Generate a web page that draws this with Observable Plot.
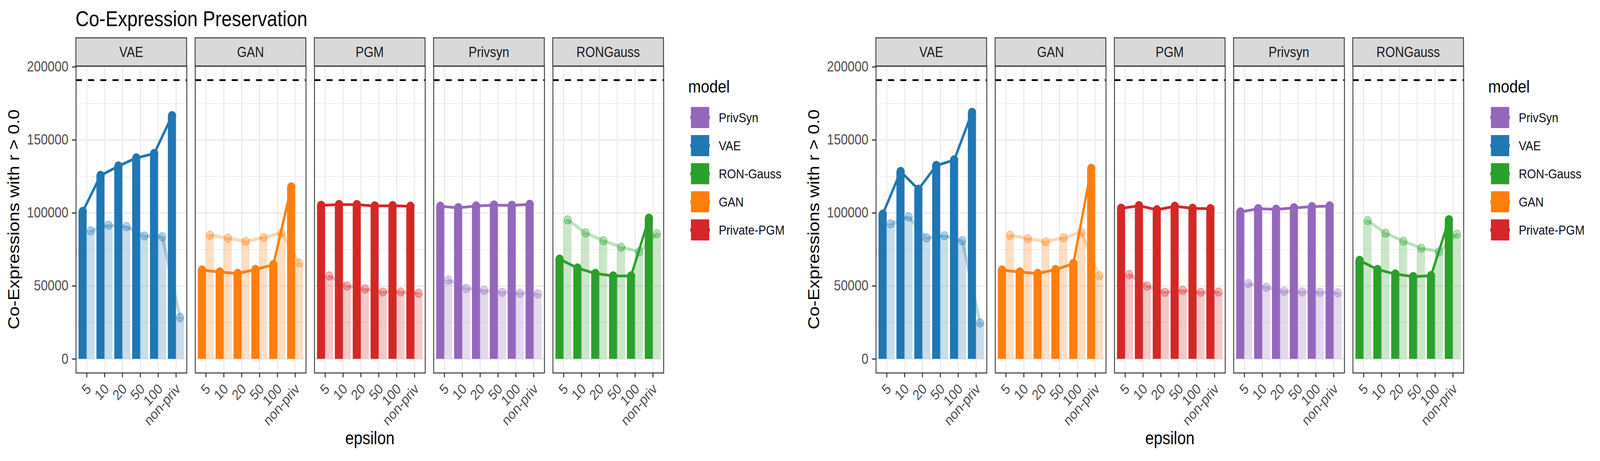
<!DOCTYPE html>
<html>
<head>
<meta charset="utf-8">
<script src="https://cdn.jsdelivr.net/npm/d3@7"></script>
<script src="https://cdn.jsdelivr.net/npm/@observablehq/plot@0.6"></script>
<style>
html, body { margin: 0; padding: 0; background: #ffffff; overflow: hidden; }
#root { position: relative; width: 4724px; height: 1181px; overflow: hidden; background: #ffffff;
        transform-origin: 0 0;
        font-family: "Liberation Sans", Arial, Helvetica, sans-serif; }
.half { position: absolute; top: 0; width: 2362px; height: 1181px; }
</style>
</head>
<body>
<div id="root"></div>
<script>
// ---------------- data ----------------
const epsilons = ["5", "10", "20", "50", "100", "non-priv"];
const models = ["VAE", "GAN", "PGM", "Privsyn", "RONGauss"];
const modelColors = ["#1f77b4", "#ff7f0e", "#d62728", "#9467bd", "#2ca02c"];
const legendModels = ["Privsyn", "VAE", "RONGauss", "GAN", "PGM"];
const legendLabels = ["PrivSyn", "VAE", "RON-Gauss", "GAN", "Private-PGM"];
const yTicks = [0, 50000, 100000, 150000, 200000];
const yMinorTicks = [25000, 75000, 125000, 175000];
const referenceTotal = 191000;

// left chart: solid series and faded series, per model, in epsilon order
const leftMainVAE       = [101000, 125700, 132100, 137700, 140700, 166600];
const leftFadedVAE      = [ 87800,  91600,  90700,  84300,  83800,  28600];
const leftMainGAN       = [ 60900,  59600,  58600,  61300,  64600, 117800];
const leftFadedGAN      = [ 84900,  82800,  80600,  83200,  86400,  65700];
const leftMainPGM       = [105200, 105800, 105700, 104800, 105000, 104600];
const leftFadedPGM      = [ 56900,  50000,  48000,  45900,  45900,  45100];
const leftMainPrivsyn   = [104600, 103600, 104800, 105400, 105200, 105900];
const leftFadedPrivsyn  = [ 54100,  48400,  47000,  45700,  45100,  44600];
const leftMainRONGauss  = [ 68400,  62300,  58600,  56900,  56900,  96400];
const leftFadedRONGauss = [ 95300,  86400,  81000,  76600,  73500,  85900];

// right chart
const rightMainVAE       = [ 99100, 128400, 116200, 132500, 136300, 168900];
const rightFadedVAE      = [ 92600,  97300,  83000,  84400,  81000,  24800];
const rightMainGAN       = [ 60900,  59600,  58600,  61200,  65400, 130500];
const rightFadedGAN      = [ 84800,  82500,  80400,  83000,  86800,  57100];
const rightMainPGM       = [103200, 105000, 102200, 104600, 103200, 102900];
const rightFadedPGM      = [ 57900,  50000,  45700,  47000,  45700,  45900];
const rightMainPrivsyn   = [100700, 102900, 102500, 103500, 104300, 104800];
const rightFadedPrivsyn  = [ 51700,  49100,  46400,  45900,  45700,  45300];
const rightMainRONGauss  = [ 67500,  61300,  58200,  56400,  57100,  95300];
const rightFadedRONGauss = [ 94800,  86200,  80700,  75900,  73500,  85500];

const leftMain  = [leftMainVAE, leftMainGAN, leftMainPGM, leftMainPrivsyn, leftMainRONGauss];
const leftFaded = [leftFadedVAE, leftFadedGAN, leftFadedPGM, leftFadedPrivsyn, leftFadedRONGauss];
const rightMain  = [rightMainVAE, rightMainGAN, rightMainPGM, rightMainPrivsyn, rightMainRONGauss];
const rightFaded = [rightFadedVAE, rightFadedGAN, rightFadedPGM, rightFadedPrivsyn, rightFadedRONGauss];

function toRows(series) {
  const out = [];
  models.forEach((m, k) => epsilons.forEach((e, i) => out.push({model: m, i, eps: e, value: series[k][i]})));
  return out;
}

// ---------------- layout ----------------
const PAGE_W = 4724, PAGE_H = 1181;
const W = 2362, H = 1181;
const mL = 223, mR = 401, mT = 169, mB = 226;
const stripH = 72;
const FONT = '"Liberation Sans", Arial, Helvetica, sans-serif';
const dodge = 0.45;
const idx = d3.range(epsilons.length);

function makeChart(mainSeries, fadedSeries, showTitle) {
  const main = toRows(mainSeries);
  const faded = toRows(fadedSeries);
  const plot = Plot.plot({
    width: W, height: H,
    marginLeft: mL, marginRight: mR, marginTop: mT, marginBottom: mB,
    style: {fontFamily: FONT, background: "transparent", maxWidth: "none", overflow: "visible"},
    fx: {domain: models, paddingInner: 0.0708, paddingOuter: 0, axis: null, label: null},
    x: {domain: [-0.6, epsilons.length - 0.4], axis: null},
    y: {domain: [-0.05 * referenceTotal, 1.05 * referenceTotal], axis: null},
    color: {domain: models, range: modelColors},
    marks: [
      Plot.gridY({ticks: yMinorTicks, stroke: "#ebebeb", strokeOpacity: 1, strokeWidth: 1.8}),
      Plot.gridY({ticks: yTicks, stroke: "#ebebeb", strokeOpacity: 1, strokeWidth: 3.5}),
      Plot.gridX({ticks: idx, stroke: "#ebebeb", strokeOpacity: 1, strokeWidth: 3.5}),
      Plot.rect(main, {fx: "model", x1: d => d.i - dodge, x2: d => d.i, y1: d => 0, y2: "value", fill: "model"}),
      Plot.rect(faded, {fx: "model", x1: d => d.i, x2: d => d.i + dodge, y1: d => 0, y2: "value", fill: "model", fillOpacity: 0.25}),
      Plot.ruleY([referenceTotal], {stroke: "#000000", strokeWidth: 4.5, strokeDasharray: "18,18"}),
      Plot.line(faded, {fx: "model", x: d => d.i + dodge / 2, y: "value", stroke: "model", strokeWidth: 8.5, strokeOpacity: 0.3}),
      Plot.line(main, {fx: "model", x: d => d.i - dodge / 2, y: "value", stroke: "model", strokeWidth: 7}),
      Plot.dot(faded, {fx: "model", x: d => d.i + dodge / 2, y: "value", r: 10.5, fill: "model", fillOpacity: 0.3, stroke: "model", strokeOpacity: 0.35, strokeWidth: 3}),
      Plot.dot(main, {fx: "model", x: d => d.i - dodge / 2, y: "value", r: 12, fill: "model"}),
      Plot.frame({stroke: "#333333", strokeWidth: 2.5}),
      Plot.axisY({ticks: yTicks, tickFormat: d => String(d), tickSize: 11.5, tickPadding: 11,
                  fontSize: 36.7, fill: "#4d4d4d", stroke: "#333333", strokeWidth: 3, label: null}),
      Plot.axisX({ticks: idx, tickFormat: () => "", tickSize: 11.5, stroke: "#333333", strokeWidth: 3, label: null}),
      Plot.text(idx, {x: d => d, text: d => epsilons[d], frameAnchor: "bottom", rotate: -45,
                      textAnchor: "end", lineAnchor: "bottom", dx: 15, dy: 43, fontSize: 36.7, fill: "#4d4d4d"})
    ]
  });

  const svg = d3.select(plot);
  const fx = plot.scale("fx");
  const bw = fx.bandwidth;

  // strips
  const strips = svg.append("g");
  models.forEach(m => {
    const x0 = fx.apply(m);
    strips.append("rect").attr("x", x0).attr("y", mT - stripH).attr("width", bw).attr("height", stripH)
      .attr("fill", "#d9d9d9").attr("stroke", "#333333").attr("stroke-width", 2.5);
    strips.append("text").attr("x", x0 + bw / 2).attr("y", mT - stripH / 2)
      .attr("text-anchor", "middle").attr("dominant-baseline", "central")
      .attr("font-family", FONT).attr("font-size", 36.7).attr("fill", "#1a1a1a").text(m);
  });

  // axis titles
  svg.append("text").attr("transform", `translate(40,${(mT + H - mB) / 2}) rotate(-90)`)
    .attr("text-anchor", "middle").attr("dominant-baseline", "central")
    .attr("font-family", FONT).attr("font-size", 46).attr("fill", "#000").text("Co-Expressions with r > 0.0");
  svg.append("text").attr("x", (mL + W - mR) / 2).attr("y", 1138)
    .attr("text-anchor", "middle").attr("font-family", FONT).attr("font-size", 46).attr("fill", "#000").text("epsilon");

  if (showTitle) {
    svg.append("text").attr("x", mL).attr("y", 67).attr("text-anchor", "start").attr("font-family", FONT).attr("font-size", 55)
      .attr("fill", "#000").text("Co-Expression Preservation");
  }

  // legend
  const lg = svg.append("g").attr("text-anchor", "start");
  const lx = W - mR + 70;
  lg.append("text").attr("x", lx + 1).attr("y", 237).attr("text-anchor", "start").attr("font-family", FONT).attr("font-size", 45)
    .attr("fill", "#000").text("model");
  legendModels.forEach((m, k) => {
    const cy = 301 + k * 72;
    const c = modelColors[models.indexOf(m)];
    lg.append("line").attr("x1", lx + 7).attr("x2", lx + 65).attr("y1", cy).attr("y2", cy)
      .attr("stroke", c).attr("stroke-width", 8);
    lg.append("rect").attr("x", lx + 9).attr("y", cy - 27).attr("width", 54).attr("height", 54).attr("fill", c);
    lg.append("text").attr("x", lx + 91).attr("y", cy).attr("text-anchor", "start").attr("dominant-baseline", "central")
      .attr("font-family", FONT).attr("font-size", 34).attr("fill", "#0d0d1a").text(legendLabels[k]);
  });
  return plot;
}

const root = document.getElementById("root");
[[leftMain, leftFaded, true], [rightMain, rightFaded, false]].forEach(([m, f, t], h) => {
  const div = document.createElement("div");
  div.className = "half";
  div.style.left = (h * W) + "px";
  div.appendChild(makeChart(m, f, t));
  root.appendChild(div);
});

// fit the 4724x1181 page into whatever viewport the browser actually provides
function fit() {
  const sx = (window.innerWidth || PAGE_W) / PAGE_W;
  const sy = (window.innerHeight || PAGE_H) / PAGE_H;
  root.style.transform = (Math.abs(sx - 1) < 1e-3 && Math.abs(sy - 1) < 1e-3) ? "none" : `scale(${sx}, ${sy})`;
}
fit();
window.addEventListener("resize", fit);
</script>
</body>
</html>
